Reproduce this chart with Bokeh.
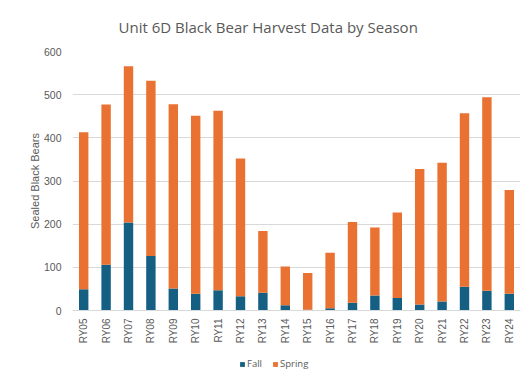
from bokeh.plotting import figure
from bokeh.layouts import column
from bokeh.models import ColumnDataSource, Legend, LegendItem, Range1d, FactorRange
from bokeh.embed import file_html
from bokeh.resources import INLINE

seasons = ["RY05", "RY06", "RY07", "RY08", "RY09", "RY10", "RY11", "RY12", "RY13", "RY14",
           "RY15", "RY16", "RY17", "RY18", "RY19", "RY20", "RY21", "RY22", "RY23", "RY24"]
fall = [49, 106, 204, 126, 51, 39, 47, 33, 41, 12, 2, 5, 18, 35, 29, 14, 21, 55, 46, 39]
total = [413, 477, 566, 532, 478, 451, 463, 352, 184, 102, 87, 134, 205, 192, 227, 328, 342, 457, 494, 279]
spring = [t - f for t, f in zip(total, fall)]
y_ticks = [0, 100, 200, 300, 400, 500, 600]
series = ["Fall", "Spring"]

FALL_C = "#156082"
SPRING_C = "#E97132"
TXT = "#595959"

src = ColumnDataSource(dict(season=seasons, Fall=fall, Spring=spring))

chart = figure(width=525, height=347, x_range=FactorRange(*seasons, range_padding=0),
               y_range=Range1d(0, 600), output_backend="svg", toolbar_location=None,
               min_border_left=72, min_border_right=5, min_border_top=51, min_border_bottom=37)

r = chart.vbar_stack(series, x="season", width=0.42, source=src,
                     color=[FALL_C, SPRING_C], line_color=None)

chart.title.text = "Unit 6D Black Bear Harvest Data by Season"
chart.title.align = "left"
chart.title.offset = 46
chart.title.standoff = 29
chart.title.text_font = "Open Sans"
chart.title.text_font_size = "15px"
chart.title.text_font_style = "normal"
chart.title.text_color = TXT

chart.outline_line_color = None
chart.background_fill_color = "white"
chart.border_fill_color = "white"

chart.xgrid.grid_line_color = None
chart.ygrid.grid_line_color = "#D9D9D9"
chart.ygrid.grid_line_width = 1

chart.yaxis.ticker = y_ticks
chart.yaxis.axis_line_color = None
chart.yaxis.major_tick_line_color = None
chart.yaxis.minor_tick_line_color = None
chart.yaxis.major_tick_out = 0
chart.yaxis.major_tick_in = 0
chart.yaxis.minor_tick_out = 0
chart.yaxis.major_label_text_font = "Liberation Sans"
chart.yaxis.major_label_text_font_size = "10.5px"
chart.yaxis.major_label_text_color = TXT
chart.yaxis.major_label_standoff = 11
chart.yaxis.axis_label = "Sealed Black Bears"
chart.yaxis.axis_label_text_font = "Liberation Sans"
chart.yaxis.axis_label_text_font_size = "11px"
chart.yaxis.axis_label_text_font_style = "normal"
chart.yaxis.axis_label_text_color = TXT
chart.yaxis.axis_label_standoff = 0

chart.xaxis.axis_line_color = "#D9D9D9"
chart.xaxis.major_tick_line_color = None
chart.xaxis.minor_tick_line_color = None
chart.xaxis.major_tick_out = 0
chart.xaxis.major_tick_in = 0
chart.xaxis.minor_tick_out = 0
chart.xaxis.major_label_orientation = 1.5708
chart.xaxis.major_label_text_font = "Liberation Sans"
chart.xaxis.major_label_text_font_size = "10px"
chart.xaxis.major_label_text_color = TXT
chart.xaxis.major_label_standoff = 8

# legend strip below the chart (same stacked series as hidden proxies for the swatches)
leg = figure(width=525, height=30, x_range=FactorRange(*seasons, range_padding=0),
             y_range=Range1d(0, 600), output_backend="svg", toolbar_location=None,
             min_border_left=72, min_border_right=5, min_border_top=0, min_border_bottom=0)
leg.axis.visible = False
leg.grid.visible = False
leg.outline_line_color = None
lr = leg.vbar_stack(series, x="season", width=0.42, source=src,
                    color=[FALL_C, SPRING_C], line_color=None)
for g in lr:
    g.visible = False
legend = Legend(items=[LegendItem(label=s, renderers=[g]) for s, g in zip(series, lr)],
                orientation="horizontal", location=(167, 7),
                label_text_font="Open Sans", label_text_font_size="9.5px",
                label_text_color=TXT, glyph_width=6, glyph_height=6,
                label_standoff=2, spacing=5, padding=2, margin=0,
                inactive_fill_alpha=0,
                border_line_color=None, background_fill_alpha=0)
leg.add_layout(legend)

p = column(chart, leg, spacing=0)

open("out.html", "w").write(file_html(p, INLINE))
